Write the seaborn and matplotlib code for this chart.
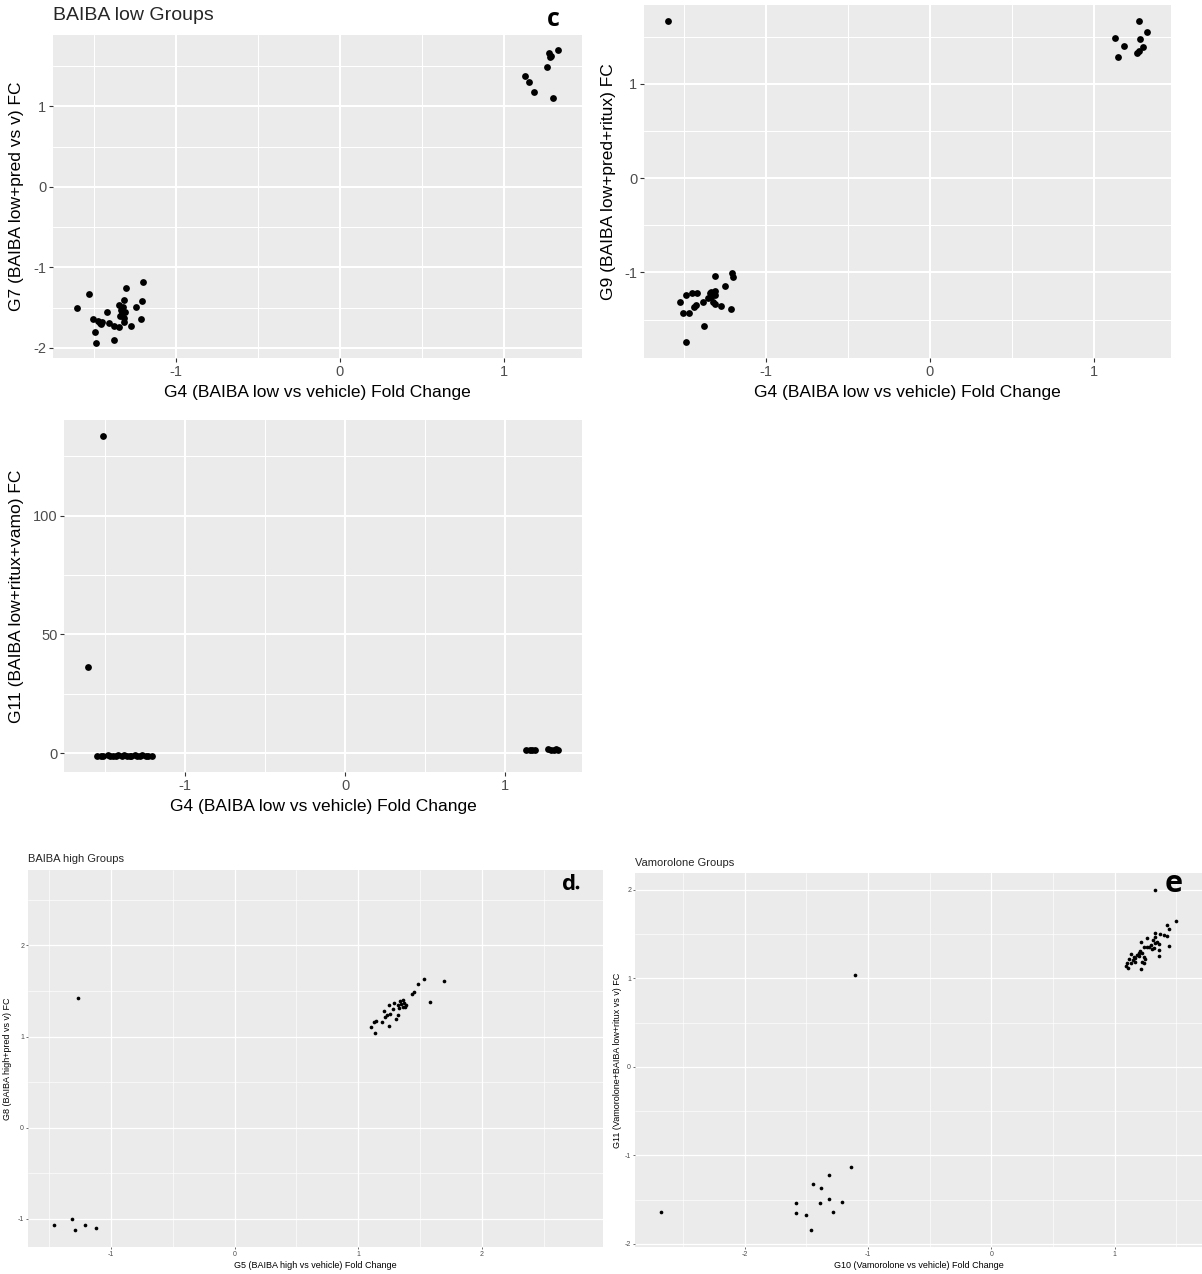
import matplotlib
matplotlib.use("Agg")
import matplotlib.pyplot as plt
import seaborn as sns
import pandas as pd
from matplotlib.ticker import FixedLocator

# ---------------- data ----------------
# Panel c-1: G4 vs G7
p1_x = [1.131, 1.154, 1.184, 1.263, 1.275, 1.282, 1.287, 1.329, 1.298,
        -1.603, -1.529, -1.506, -1.494, -1.490, -1.475, -1.462, -1.450, -1.422, -1.407,
        -1.380, -1.376, -1.349, -1.345, -1.335, -1.330, -1.322, -1.314, -1.310, -1.304,
        -1.314, -1.318, -1.273, -1.246, -1.215, -1.207, -1.201, -1.340, -1.455]
p1_y = [1.382, 1.307, 1.183, 1.494, 1.664, 1.610, 1.631, 1.705, 1.100,
        -1.498, -1.325, -1.638, -1.798, -1.942, -1.663, -1.690, -1.672, -1.556, -1.691,
        -1.724, -1.905, -1.745, -1.465, -1.527, -1.568, -1.486, -1.403, -1.547, -1.259,
        -1.630, -1.683, -1.724, -1.486, -1.642, -1.416, -1.177, -1.600, -1.700]

# Panel c-2: G4 vs G9
p2_x = [-1.597, 1.129, 1.150, 1.183, 1.264, 1.276, 1.276, 1.285, 1.299, 1.325,
        -1.525, -1.504, -1.485, -1.485, -1.469, -1.448, -1.436, -1.418, -1.425, -1.383,
        -1.378, -1.355, -1.343, -1.336, -1.332, -1.320, -1.313, -1.309, -1.309, -1.313,
        -1.271, -1.248, -1.215, -1.208, -1.201]
p2_y = [1.667, 1.482, 1.284, 1.401, 1.323, 1.348, 1.663, 1.472, 1.390, 1.553,
        -1.312, -1.429, -1.241, -1.738, -1.429, -1.216, -1.365, -1.223, -1.347, -1.312,
        -1.567, -1.276, -1.223, -1.205, -1.258, -1.312, -1.199, -1.245, -1.039, -1.330,
        -1.358, -1.142, -1.384, -1.004, -1.046]

# Panel c-3: G4 vs G11
p3_x = [-1.509, -1.607,
        -1.547, -1.522, -1.508, -1.481, -1.466, -1.449, -1.427, -1.415, -1.392, -1.377,
        -1.362, -1.341, -1.333, -1.312, -1.298, -1.281, -1.266, -1.243, -1.228, -1.204,
        1.131, 1.152, 1.168, 1.187, 1.268, 1.286, 1.301, 1.318, 1.331]
p3_y = [133.6, 36.4,
        -1.12, -1.05, -1.21, -0.98, -1.15, -1.08, -1.24, -1.02, -1.13, -0.95,
        -1.18, -1.07, -1.26, -1.01, -1.14, -1.09, -0.97, -1.19, -1.06, -1.11,
        1.31, 1.22, 1.38, 1.27, 1.49, 1.33, 1.42, 1.61, 1.29]

# Panel d: G5 vs G8
p4_x = [2.77, -1.269, -1.461, -1.313, -1.291, -1.211, -1.124,
        1.139, 1.107, 1.126, 1.145, 1.196, 1.212, 1.220, 1.234, 1.250, 1.247,
        1.255, 1.282, 1.293, 1.303, 1.320, 1.323, 1.332, 1.341, 1.350, 1.360,
        1.366, 1.372, 1.382, 1.388, 1.436, 1.455, 1.584, 1.486, 1.536, 1.697]
p4_y = [2.64, 1.422, -1.068, -1.006, -1.123, -1.075, -1.105,
        1.036, 1.101, 1.156, 1.171, 1.160, 1.280, 1.218, 1.236, 1.116, 1.346,
        1.244, 1.299, 1.364, 1.189, 1.236, 1.346, 1.310, 1.393, 1.355, 1.325,
        1.400, 1.365, 1.320, 1.345, 1.466, 1.491, 1.375, 1.575, 1.630, 1.611]

# Panel e: G10 vs G11
p5_x = [-2.682, -1.110, 1.324,
        -1.587, -1.587, -1.500, -1.466, -1.444, -1.389, -1.383, -1.321, -1.315, -1.287, -1.216, -1.135,
        1.499, 1.426, 1.437, 1.369, 1.396, 1.423, 1.329, 1.329, 1.442, 1.261,
        1.216, 1.307, 1.323, 1.342, 1.356, 1.297, 1.280, 1.315, 1.356, 1.302,
        1.261, 1.234, 1.208, 1.221, 1.194, 1.200, 1.180, 1.129, 1.154, 1.167,
        1.146, 1.162, 1.234, 1.248, 1.221, 1.237, 1.113, 1.100, 1.091, 1.108,
        1.135, 1.210, 1.356]
p5_y = [-1.635, 1.040, 2.000,
        -1.540, -1.646, -1.672, -1.842, -1.326, -1.540, -1.371, -1.492, -1.220, -1.642, -1.525, -1.126,
        1.653, 1.605, 1.559, 1.503, 1.492, 1.484, 1.511, 1.466, 1.367, 1.454,
        1.416, 1.435, 1.398, 1.416, 1.390, 1.379, 1.359, 1.341, 1.322, 1.330,
        1.359, 1.359, 1.314, 1.285, 1.285, 1.254, 1.266, 1.277, 1.240, 1.228,
        1.209, 1.190, 1.246, 1.217, 1.190, 1.179, 1.217, 1.179, 1.141, 1.115,
        1.172, 1.104, 1.254]

lab_g4 = "G4 (BAIBA low vs vehicle) Fold Change"
lab_g7 = "G7 (BAIBA low+pred vs v) FC"
lab_g9 = "G9 (BAIBA low+pred+ritux) FC"
lab_g11a = "G11 (BAIBA low+ritux+vamo) FC"
lab_g5 = "G5 (BAIBA high vs vehicle) Fold Change"
lab_g8 = "G8 (BAIBA high+pred vs v) FC"
lab_g10 = "G10 (Vamorolone vs vehicle) Fold Change"
lab_g11b = "G11 (Vamorolone+BAIBA low+ritux vs v) FC"

# ---------------- style ----------------
sns.set_theme(style="darkgrid")
plt.rcParams['font.family'] = ['Liberation Sans', 'DejaVu Sans']
plt.rcParams['axes.unicode_minus'] = False

W, H = 1202, 1274
fig = plt.figure(figsize=(W / 100, H / 100), dpi=100)
fig.patch.set_facecolor('white')


def add_panel(l, t, r, b):
    return fig.add_axes([l / W, 1 - b / H, (r - l) / W, (b - t) / H])


def expand(vals, f=0.05):
    lo, hi = min(vals), max(vals)
    d = (hi - lo) * f
    return lo - d, hi + d


def draw(box, xs, ys, xlab, ylab, xmaj, xmin, ymaj, ymin, xlab_py, ylab_px,
         big=True):
    l, t, r, b = box
    ax = add_panel(l, t, r, b)
    df = pd.DataFrame({"x": xs, "y": ys})
    sns.scatterplot(data=df, x="x", y="y", ax=ax, color="black",
                    s=24 if big else 7, linewidth=0, zorder=3)
    ax.set_xlim(*expand(xs))
    ax.set_ylim(*expand(ys))
    ax.set_facecolor('#EBEBEB')
    for s in ax.spines.values():
        s.set_visible(False)
    ax.xaxis.set_major_locator(FixedLocator(xmaj))
    ax.xaxis.set_minor_locator(FixedLocator(xmin))
    ax.yaxis.set_major_locator(FixedLocator(ymaj))
    ax.yaxis.set_minor_locator(FixedLocator(ymin))
    ax.set_xticklabels([f"{v:g}" for v in xmaj])
    ax.set_yticklabels([f"{v:g}" for v in ymaj])
    ax.grid(which='major', color='white', lw=1.5 if big else 0.9)
    ax.grid(which='minor', color='white', lw=0.75 if big else 0.45)
    ax.set_axisbelow(True)
    ax.tick_params(which='minor', length=0)
    ax.tick_params(which='major', bottom=True, left=True,
                   length=2.8 if big else 1.6,
                   width=0.8 if big else 0.5, color='#333333',
                   labelcolor='#4D4D4D', labelsize=10.5 if big else 5,
                   pad=2 if big else 1.2)
    fs = 12.5 if big else 6.5
    ax.set_xlabel(xlab, fontsize=fs, color='black')
    ax.set_ylabel(ylab, fontsize=fs, color='black')
    ax.xaxis.label.set_va('center')
    ax.yaxis.label.set_va('center')
    ax.xaxis.set_label_coords(0.5, (b - xlab_py) / (b - t))
    ax.yaxis.set_label_coords((ylab_px - l) / (r - l), 0.5)
    return ax


def ftext(px, py, s, **kw):
    fig.text(px / W, 1 - py / H, s, **kw)


# top-left
draw((53, 35, 582, 358), p1_x, p1_y, lab_g4, lab_g7,
     [-1, 0, 1], [-1.5, -0.5, 0.5], [-2, -1, 0, 1], [-1.5, -0.5, 0.5, 1.5],
     393, 17)
# top-right
draw((644, 5, 1171, 358), p2_x, p2_y, lab_g4, lab_g9,
     [-1, 0, 1], [-1.5, -0.5, 0.5], [-1, 0, 1], [-1.5, -0.5, 0.5, 1.5],
     393, 608)
# middle-left
draw((64, 420, 582, 772), p3_x, p3_y, lab_g4, lab_g11a,
     [-1, 0, 1], [-1.5, -0.5, 0.5], [0, 50, 100], [25, 75, 125],
     807, 17)
# bottom-left
draw((28, 870, 603, 1247), p4_x, p4_y, lab_g5, lab_g8,
     [-1, 0, 1, 2], [-1.5, -0.5, 0.5, 1.5, 2.5], [-1, 0, 1, 2],
     [-0.5, 0.5, 1.5, 2.5], 1266, 8, big=False)
# bottom-right
draw((635, 873, 1202, 1247), p5_x, p5_y, lab_g10, lab_g11b,
     [-2, -1, 0, 1], [-2.5, -1.5, -0.5, 0.5, 1.5], [-2, -1, 0, 1, 2],
     [-1.5, -0.5, 0.5, 1.5], 1265, 617, big=False)

# titles and panel letters
ftext(53, 15, "BAIBA low Groups", fontsize=14, ha='left', va='center')
ftext(28, 859, "BAIBA high Groups", fontsize=8, ha='left', va='center')
ftext(635, 863, "Vamorolone Groups", fontsize=8, ha='left', va='center')
letter_kw = dict(family=['Open Sans', 'DejaVu Sans'], weight='bold', ha='center',
                 va='baseline', color='black')
ftext(553, 26, "c", fontsize=18, **letter_kw)
ftext(569, 890, "d", fontsize=16, **letter_kw)
ftext(1174, 892, "e", fontsize=22, **letter_kw)

fig.savefig("out.png", dpi=100)
